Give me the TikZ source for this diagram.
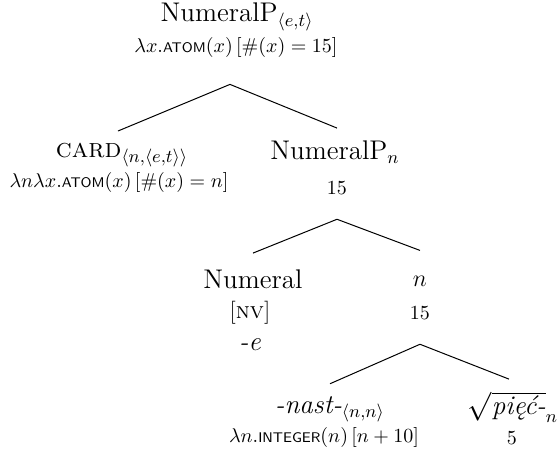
\documentclass[tikz,border=0pt]{standalone}
\usepackage{fontspec}
\usepackage{amsmath}
\usetikzlibrary{positioning}

\newcommand{\predsf}[1]{\textsf{\scriptsize #1}}

\begin{document}
\begin{tikzpicture}[x=0.5pt,y=-0.5pt,
    cat/.style={font=\fontsize{13.5}{16}\selectfont, inner sep=1pt},
    meaning/.style={font=\fontsize{10}{12}\selectfont, inner sep=1pt},
    branch/.style={line width=0.5pt}
]
\useasboundingbox (0,0) rectangle (559,459);

% root
\node[cat] (root) at (237,17) {NumeralP$_{\langle e,t\rangle}$};
\node[meaning] (rootsem) at (236,48) {$\lambda x.\predsf{ATOM}(x)\,[\#(x) = 15]$};

% first level
\node[cat] (card) at (122,155) {\textsc{card}$_{\langle n,\langle e,t\rangle\rangle}$};
\node[meaning] (cardsem) at (119,183) {$\lambda n\lambda x.\predsf{ATOM}(x)\,[\#(x) = n]$};
\node[cat] (nump) at (335,152) {NumeralP$_n$};
\node[meaning] (numpsem) at (337,188) {15};

% second level
\node[cat] (numeral) at (253,279) {Numeral};
\node[meaning, font=\fontsize{11.5}{13}\selectfont] (numeralfeat) at (250,313) {[\textsc{nv}]};
\node[cat] (suffix) at (250,345) {\textit{-e}};
\node[cat, font=\fontsize{11.5}{13}\selectfont] (nvar) at (420,281) {$n$};
\node[meaning] (nvarsem) at (420,313) {15};

% third level
\node[cat] (nast) at (330,409) {\textit{-nast-}$_{\langle n,n\rangle}$};
\node[meaning] (nastsem) at (324,438) {$\lambda n.\predsf{INTEGER}(n)\,[n+10]$};
\node[cat] (piec) at (513,407) {$\sqrt{\textit{pięć-}}_n$};
\node[meaning] (piecsem) at (512,438) {5};

% branches
\draw[branch] ([xshift=-3pt,yshift=-12pt]rootsem.south) -- ([xshift=-2pt,yshift=5pt]card.north);
\draw[branch] ([xshift=-3pt,yshift=-12pt]rootsem.south) -- ([xshift=1pt,yshift=5pt]nump.north);
\draw[branch] ([yshift=-11pt]numpsem.south) -- ([yshift=7pt]numeral.north);
\draw[branch] ([yshift=-11pt]numpsem.south) -- ([yshift=11.5pt]nvar.north);
\draw[branch] ([yshift=-11pt]nvarsem.south) -- ([yshift=5pt]nast.north);
\draw[branch] ([yshift=-11pt]nvarsem.south) -- ([xshift=-2pt,yshift=5pt]piec.north);
\end{tikzpicture}
\end{document}
